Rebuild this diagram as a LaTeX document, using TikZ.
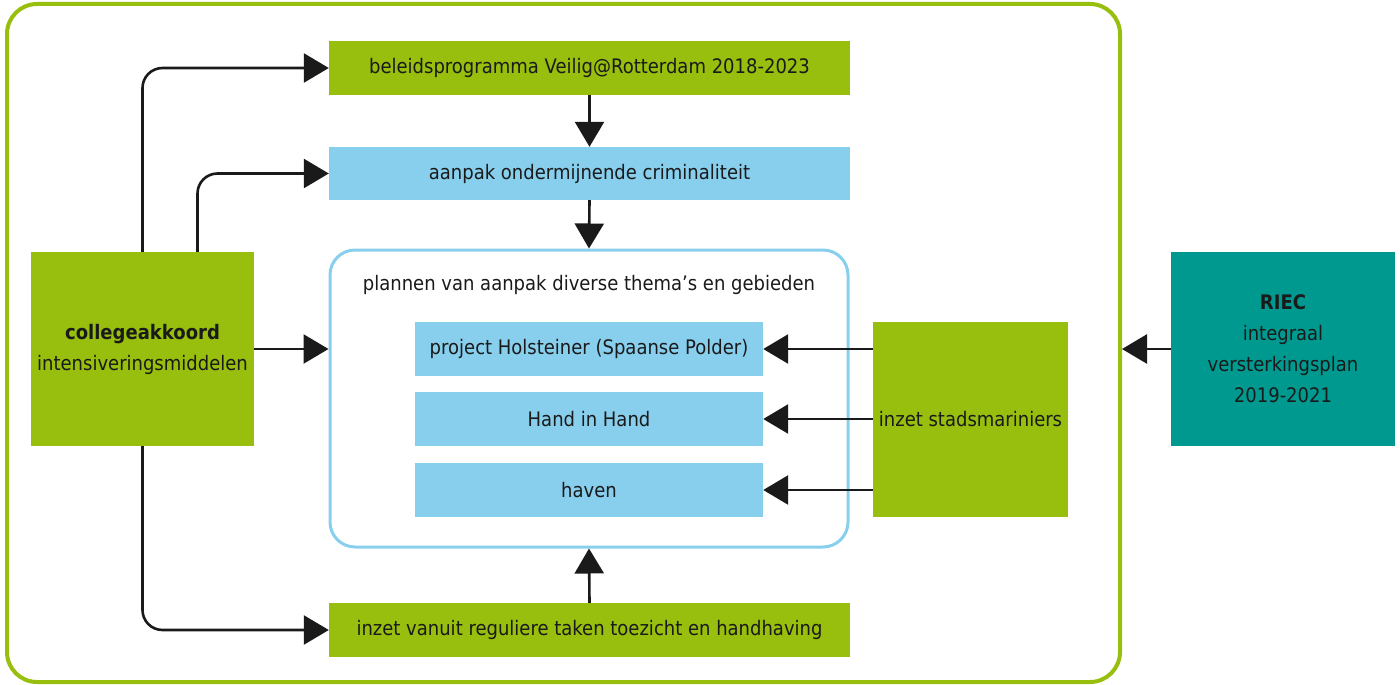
\documentclass[tikz,border=0pt]{standalone}
\usepackage{fontspec}
\setmainfont{DejaVu Sans}[FakeStretch=0.9]
\usetikzlibrary{arrows.meta}
\definecolor{lgreen}{HTML}{98BE0E}
\definecolor{lblue}{HTML}{88CFEE}
\definecolor{teal2}{HTML}{00998F}
\definecolor{txt}{HTML}{1A1A1A}
\tikzset{
  box/.style={rectangle, inner sep=0pt, text=txt, align=center, font=\fontsize{20}{31}\selectfont},
  gbox/.style={box, fill=lgreen},
  bbox/.style={box, fill=lblue},
  tbox/.style={box, fill=teal2},
  arr/.style={draw=txt, line width=2.6pt, -{Triangle[length=25pt,width=29pt]}},
}
\begin{document}
\begin{tikzpicture}[x=1pt,y=-1pt]
\useasboundingbox (0,0) rectangle (1400,685);
% outer frame
\node[draw=lgreen, line width=4pt, rounded corners=30pt, minimum width=1113pt, minimum height=678pt, inner sep=0pt] (outer) at (563.5,343) {};
% plans container
\node[draw=lblue, line width=3pt, rounded corners=25pt, minimum width=518pt, minimum height=297pt, inner sep=0pt] (plans) at (589,398.5) {};
\node[box] (ptitle) at (589,285) {plannen van aanpak diverse thema’s en gebieden};

\node[gbox, minimum width=521pt, minimum height=54pt] (b1) at (589.5,68) {beleidsprogramma Veilig@Rotterdam 2018-2023};
\node[bbox, minimum width=521pt, minimum height=53pt] (b2) at (589.5,173.5) {aanpak ondermijnende criminaliteit};
\node[gbox, minimum width=521pt, minimum height=54pt] (b3) at (589.5,630) {inzet vanuit reguliere taken toezicht en handhaving};

\node[bbox, minimum width=348pt, minimum height=54pt] (i1) at (589,349) {project Holsteiner (Spaanse Polder)};
\node[bbox, minimum width=348pt, minimum height=54pt] (i2) at (589,419) {Hand in Hand};
\node[bbox, minimum width=348pt, minimum height=54pt] (i3) at (589,490) {haven};

\node[gbox, minimum width=223pt, minimum height=194pt] (left) at (142.5,349) {\textbf{collegeakkoord}\\intensiveringsmiddelen};
\node[gbox, minimum width=195pt, minimum height=195pt] (stads) at (970.5,419.5) {inzet stadsmariniers};
\node[tbox, minimum width=224pt, minimum height=194pt] (riec) at (1283,349) {\textbf{RIEC}\\integraal\\versterkingsplan\\2019-2021};

% vertical arrows
\draw[arr] (b1.south) -- (b2.north);
\draw[arr] (b2.south) -- (plans.north);
\draw[arr] (b3.north) -- (plans.south);
% from collegeakkoord
\draw[arr, rounded corners=20pt] (left.north) |- (b1.west);
\draw[arr, rounded corners=20pt] ([xshift=55pt]left.north) |- (b2.west);
\draw[arr] (left.east) -- (left.east -| plans.west);
\draw[arr, rounded corners=20pt] (left.south) |- (b3.west);
% from stadsmariniers
\draw[arr] (stads.west |- i1.east) -- (i1.east);
\draw[arr] (stads.west |- i2.east) -- (i2.east);
\draw[arr] (stads.west |- i3.east) -- (i3.east);
% from RIEC
\draw[arr] (riec.west) -- (riec.west -| outer.east);
\end{tikzpicture}
\end{document}
